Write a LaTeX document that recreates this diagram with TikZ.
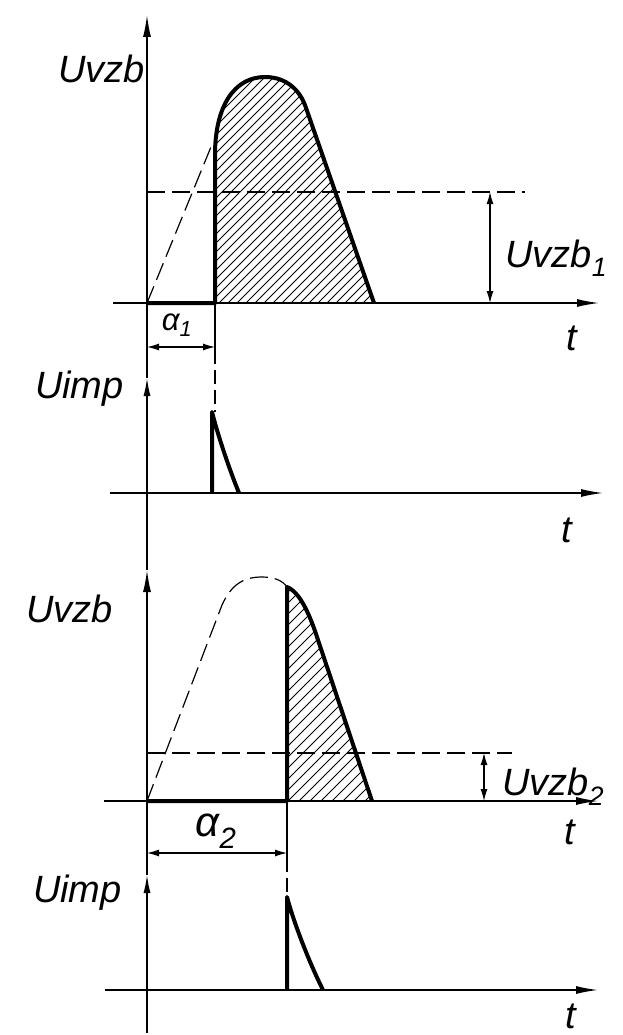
\documentclass[tikz,border=0pt]{standalone}
\usepackage{fontspec}
\setmainfont{Liberation Sans}
\usetikzlibrary{arrows.meta}

\begin{document}
\begin{tikzpicture}[x=1pt,y=-1pt,>=Latex,
  font=\fontsize{38}{40}\selectfont\itshape,
  axis/.style={line width=1.4pt},
  bigtip/.style={-{Latex[length=22pt,width=8pt]}},
  smalltip/.style={-{Latex[length=18pt,width=7pt]}},
  pulse/.style={line width=4pt,line join=round},
  dashline/.style={line width=1.2pt,dash pattern=on 18pt off 7pt},
  hatch/.style={line width=0.9pt},
  dim/.style={line width=1.1pt,
    {Latex[length=12pt,width=7pt]}-{Latex[length=12pt,width=7pt]}},
  lbl/.style={inner sep=0pt},
  greek/.style={inner sep=0pt,font=\fontsize{42}{44}\selectfont\itshape}]
  \useasboundingbox (0,0) rectangle (622,1035);

  % common time axis, with the tips of the four panels
  \draw[axis,smalltip] (147,1033) -- (147,875);
  \draw[axis,bigtip] (147,875) -- (147,570);
  \draw[axis,smalltip] (147,570) -- (147,378);
  \draw[axis,bigtip] (147,378) -- (147,15);

  % panel 1: Uvzb, firing angle alpha_1
  \draw[axis,bigtip] (113,303) -- (599,303);
  \begin{scope}
    \clip (215,303) -- (215,155) .. controls (215,105) and (235,77) .. (265,77)
      .. controls (288,77) and (300,92) .. (305,105) -- (374,303) -- cycle;
    \foreach \k in {0,...,50}
      \draw[hatch] ({-60+9*\k},303) -- ++(260,-260);
  \end{scope}
  \draw[dashline] (147,303) -- (213,142);
  \draw[dashline] (147,192) -- (525,192);
  \draw[pulse] (147,303) -- (215,303) -- (215,155)
    .. controls (215,105) and (235,77) .. (265,77)
    .. controls (288,77) and (300,92) .. (305,105) -- (374,303);
  \draw[dim] (490,192) -- (490,303);
  \draw[axis] (215,303) -- (215,350);
  \draw[axis,dash pattern=on 14pt off 6pt] (215,350) -- (215,412);
  \draw[dim] (147,347) -- (215,347);
  \node[lbl,anchor=base east] (uvzbA) at (145,83) {Uvzb};
  \node[lbl,anchor=base west] (uvzbone) at (505,267) {Uvzb\textsubscript{1}};
  \node[lbl] (tA) at (572,338) {t};
  \node[greek,font=\fontsize{31}{33}\selectfont\itshape] (alphaone) at (177,325)
    {α\textsubscript{1}};

  % panel 2: Uimp
  \draw[axis,bigtip] (110,493) -- (603,493);
  \draw[pulse] (212,493) -- (212,412)
    .. controls (217,432) and (228,466) .. (239,493);
  \node[lbl,anchor=base east] (uimpA) at (124,398) {Uimp};
  \node[lbl] (tB) at (567,530) {t};

  % panel 3: Uvzb, firing angle alpha_2
  \draw[axis,bigtip] (104,801) -- (598,801);
  \begin{scope}
    \clip (287,801) -- (287,587) .. controls (300,592) and (310,615) .. (318,640)
      -- (372,801) -- cycle;
    \foreach \k in {0,...,35}
      \draw[hatch] ({-20+11*\k},801) -- ++(300,-300);
  \end{scope}
  \draw[dashline] (147,801) -- (222,605)
    .. controls (232,583) and (245,577) .. (262,577)
    .. controls (275,577) and (283,581) .. (287,587);
  \draw[dashline] (147,753) -- (512,753);
  \draw[pulse] (147,801) -- (287,801) -- (287,587)
    .. controls (300,592) and (310,615) .. (318,640) -- (372,801);
  \draw[dim] (484,753) -- (484,801);
  \draw[axis] (287,801) -- (287,858);
  \draw[axis,dash pattern=on 14pt off 6pt] (287,858) -- (287,897);
  \draw[dim] (147,853) -- (287,853);
  \node[lbl,anchor=base east] (uvzbB) at (113,622) {Uvzb};
  \node[lbl,anchor=base west] (uvzbtwo) at (502,795) {Uvzb\textsubscript{2}};
  \node[lbl] (tC) at (570,832) {t};
  \node[greek] (alphatwo) at (216,831) {α\textsubscript{2}};

  % panel 4: Uimp
  \draw[axis,bigtip] (105,990) -- (598,990);
  \draw[pulse] (287,990) -- (287,897)
    .. controls (293,920) and (308,960) .. (323,990);
  \node[lbl,anchor=base east] (uimpB) at (122,902) {Uimp};
  \node[lbl] (tD) at (571,1016) {t};
\end{tikzpicture}
\end{document}
